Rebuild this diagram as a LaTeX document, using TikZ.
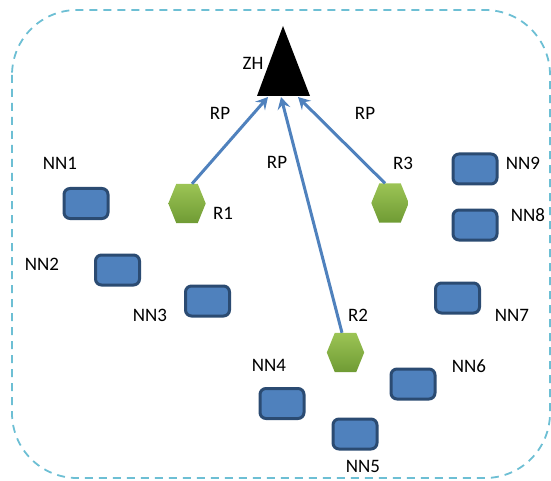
\documentclass[tikz,border=0pt]{standalone}
\usepackage{fontspec}
\setmainfont{Carlito}
\usetikzlibrary{arrows.meta,calc}
\definecolor{nodeblue}{HTML}{4F81BD}
\definecolor{nodeedge}{HTML}{2B4B72}
\definecolor{hexlight}{HTML}{9CC455}
\definecolor{hexdark}{HTML}{6F9B34}
\definecolor{zoneline}{HTML}{6DBFD4}
\definecolor{linkblue}{HTML}{4F81BD}
\tikzset{
  nn/.style={rectangle, rounded corners=6pt, fill=nodeblue, draw=nodeedge,
    line width=3pt, minimum width=44pt, minimum height=30pt, inner sep=0pt},
  lbl/.style={font=\fontsize{19}{21}\selectfont, text=black, inner sep=0pt},
  hexnode/.style={rectangle, minimum width=37pt, minimum height=39pt, inner sep=0pt},
  link/.style={draw=linkblue, line width=3pt,
    -{Stealth[length=12pt,width=13pt,inset=4.5pt]}},
  zone/.style={draw=zoneline, line width=1.8pt, dash pattern=on 8pt off 6pt,
    rounded corners=65pt},
}
% flat-topped hexagon filling a hexnode
\newcommand{\hexfill}[1]{%
  \shade[top color=hexlight, bottom color=hexdark]
    ($(#1.west)$) -- ($(#1.north west)+(8pt,0)$) -- ($(#1.north east)+(-8pt,0)$)
    -- (#1.east) -- ($(#1.south east)+(-8pt,0)$) -- ($(#1.south west)+(8pt,0)$) -- cycle;}
\begin{document}
\begin{tikzpicture}[x=1pt,y=1pt]
\useasboundingbox (0,0) rectangle (551,-481);
% dashed zone boundary
\draw[zone] (12,-10) rectangle (550,-478);

% sink
\coordinate (zhtop) at (283,-26);
\coordinate (zhl) at (257,-96);
\coordinate (zhr) at (310,-96);
\fill[black] (zhtop) -- (zhr) -- (zhl) -- cycle;
\node[lbl] (zh) at (253,-63) {ZH};
\coordinate (zha) at (268,-97);
\coordinate (zhb) at (281,-97);
\coordinate (zhc) at (298,-97);

% relay nodes
\node[hexnode] (r1) at (187,-203.5) {};
\node[hexnode] (r2) at (345.5,-352.5) {};
\node[hexnode] (r3) at (390,-203) {};
\hexfill{r1}
\hexfill{r2}
\hexfill{r3}
\node[lbl] (r1l) at (223,-213) {R1};
\node[lbl] (r2l) at (358,-315) {R2};
\node[lbl] (r3l) at (403,-163) {R3};

% routing paths
\draw[link] ($(r1.north)+(5pt,0)$) -- (zha);
\draw[link] ($(r2.north)+(-3.5pt,0)$) -- (zhb);
\draw[link] ($(r3.north)+(-5pt,0)$) -- (zhc);
\node[lbl] (rp1) at (220,-113) {RP};
\node[lbl] (rp2) at (277,-162) {RP};
\node[lbl] (rp3) at (365,-113) {RP};

% ordinary nodes
\node[nn] (nn1) at (86,-203.5) {};
\node[nn] (nn2) at (117.5,-270) {};
\node[nn] (nn3) at (207.5,-301) {};
\node[nn] (nn4) at (282,-403.5) {};
\node[nn] (nn5) at (355,-434) {};
\node[nn] (nn6) at (413,-384) {};
\node[nn] (nn7) at (457.5,-298) {};
\node[nn] (nn8) at (475,-225) {};
\node[nn] (nn9) at (475,-169) {};
\node[lbl] (nn1l) at (60,-163) {NN1};
\node[lbl] (nn2l) at (42,-264) {NN2};
\node[lbl] (nn3l) at (150,-315) {NN3};
\node[lbl] (nn4l) at (269,-365) {NN4};
\node[lbl] (nn5l) at (363,-466) {NN5};
\node[lbl] (nn6l) at (469,-366) {NN6};
\node[lbl] (nn7l) at (512,-315) {NN7};
\node[lbl] (nn8l) at (528,-215) {NN8};
\node[lbl] (nn9l) at (523,-163) {NN9};
\end{tikzpicture}
\end{document}
